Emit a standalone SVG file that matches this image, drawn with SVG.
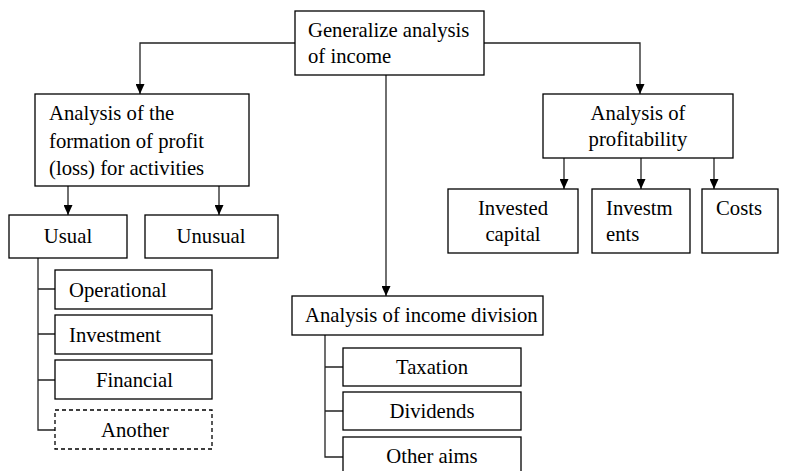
<svg xmlns="http://www.w3.org/2000/svg" width="791" height="471" viewBox="0 0 791 471" font-family="'Liberation Serif', 'Times New Roman', 'DejaVu Serif', serif">
<style>
.box{fill:#fff;stroke:#000;stroke-width:1.3}
.dash{fill:#fff;stroke:#000;stroke-width:1.3;stroke-dasharray:4 3}
.ln{fill:none;stroke:#222;stroke-width:1.3}
text{font-family:'Liberation Serif','Times New Roman','DejaVu Serif',serif;font-size:20.7px;fill:#000}
.c{text-anchor:middle}
</style>
<defs>
<marker id="ah" viewBox="0 0 10 9" markerWidth="10" markerHeight="9" refX="10" refY="4.5" orient="auto" markerUnits="userSpaceOnUse">
<path d="M0,0 L10,4.5 L0,9 z" fill="#000"/>
</marker>
</defs>
<rect width="791" height="471" fill="#fff"/>
<g id="connectors">
<path class="ln" d="M295,43 H140 V94" marker-end="url(#ah)"/>
<path class="ln" d="M484,43 H640 V94" marker-end="url(#ah)"/>
<path class="ln" d="M386,75 V296" marker-end="url(#ah)"/>
<path class="ln" d="M68,186 V215" marker-end="url(#ah)"/>
<path class="ln" d="M219,186 V215" marker-end="url(#ah)"/>
<path class="ln" d="M564,158 V189" marker-end="url(#ah)"/>
<path class="ln" d="M641,158 V189" marker-end="url(#ah)"/>
<path class="ln" d="M714,158 V189" marker-end="url(#ah)"/>
<path class="ln" d="M38,258 V430 H55 M38,289 H55 M38,334 H55 M38,380 H55"/>
<path class="ln" d="M325,335 V457 H343 M325,367 H343 M325,411 H343"/>
</g>
<g id="n-general">
<rect class="box" x="295" y="11" width="189" height="64"/>
<text x="308" y="37">Generalize analysis</text>
<text x="308" y="63">of income</text>
</g>
<g id="n-formation">
<rect class="box" x="35" y="94" width="214" height="92"/>
<text x="49" y="120">Analysis of the</text>
<text x="49" y="148">formation of profit</text>
<text x="49" y="175">(loss) for activities</text>
</g>
<g id="n-profitability">
<rect class="box" x="543" y="94" width="190" height="64"/>
<text class="c" x="638" y="120">Analysis of</text>
<text class="c" x="638" y="146">profitability</text>
</g>
<g id="n-usual">
<rect class="box" x="9" y="215" width="118" height="43"/>
<text class="c" x="68" y="243">Usual</text>
</g>
<g id="n-unusual">
<rect class="box" x="145" y="215" width="133" height="43"/>
<text class="c" x="211" y="243">Unusual</text>
</g>
<g id="n-operational">
<rect class="box" x="55" y="270" width="157" height="39"/>
<text x="69" y="297">Operational</text>
</g>
<g id="n-investment">
<rect class="box" x="55" y="315" width="157" height="39"/>
<text x="69" y="342">Investment</text>
</g>
<g id="n-financial">
<rect class="box" x="55" y="360" width="157" height="39"/>
<text x="96" y="387">Financial</text>
</g>
<g id="n-another">
<rect class="dash" x="55" y="410" width="157" height="39"/>
<text x="101" y="437">Another</text>
</g>
<g id="n-invested-capital">
<rect class="box" x="448" y="189" width="130" height="64"/>
<text class="c" x="513" y="215">Invested</text>
<text class="c" x="513" y="241">capital</text>
</g>
<g id="n-investments">
<rect class="box" x="592" y="189" width="98" height="64"/>
<text x="606" y="215">Investm</text>
<text x="606" y="241">ents</text>
</g>
<g id="n-costs">
<rect class="box" x="702" y="189" width="76" height="64"/>
<text x="716" y="215">Costs</text>
</g>
<g id="n-division">
<rect class="box" x="292" y="296" width="251" height="39"/>
<text x="305" y="322">Analysis of income division</text>
</g>
<g id="n-taxation">
<rect class="box" x="343" y="348" width="178" height="38"/>
<text class="c" x="432" y="374">Taxation</text>
</g>
<g id="n-dividends">
<rect class="box" x="343" y="392" width="178" height="38"/>
<text class="c" x="432" y="418">Dividends</text>
</g>
<g id="n-other">
<rect class="box" x="343" y="437" width="178" height="40"/>
<text class="c" x="432" y="463">Other aims</text>
</g>
</svg>
